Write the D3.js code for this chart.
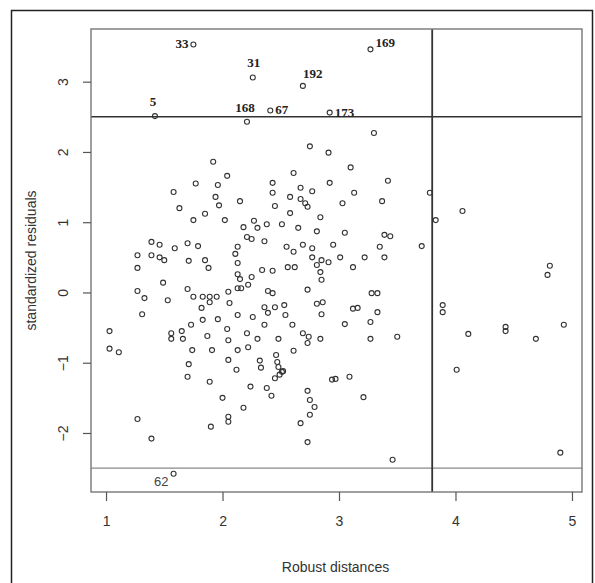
<!DOCTYPE html>
<html>
<head>
<meta charset="utf-8">
<script src="https://cdn.jsdelivr.net/npm/d3@7"></script>
<style>
  body { margin: 0; background: #fff; }
  svg { display: block; }
</style>
</head>
<body>
<svg id="chart" width="595" height="583"></svg>
<script>
// robust distance / standardized residual, one entry per observation
var rd = [1.75,2.26,1.42,2.21,2.41,2.69,2.92,3.27,1.58,
  3.30,2.75,2.91,1.92,3.10,2.61,2.04,3.42,1.77,1.96,2.43,2.92,2.67,2.77,1.58,1.94,2.43,3.13,3.78,
  2.58,1.63,2.15,2.67,3.03,3.37,2.71,2.45,1.97,2.73,1.85,2.58,1.75,2.84,2.02,3.83,4.06,2.27,2.38,
  2.51,2.18,2.30,2.65,2.81,3.05,3.39,3.44,2.21,2.25,2.36,1.39,1.46,1.59,1.70,1.79,2.13,2.55,2.61,
  2.69,2.77,2.95,3.35,3.71,1.27,1.39,1.46,1.50,1.71,1.85,2.11,3.01,3.22,3.39,2.85,2.91,1.88,1.27,
  2.13,2.34,2.43,2.56,2.62,2.81,3.12,2.13,2.25,2.84,2.15,2.85,1.49,2.22,2.13,2.16,2.39,2.43,2.05,
  2.73,1.95,1.27,1.70,1.75,1.33,1.83,1.89,3.28,3.33,4.81,4.79,1.53,1.89,1.31,1.82,1.83,1.03,1.56,
  1.56,1.65,1.66,1.73,1.87,1.03,1.11,1.74,1.91,1.71,1.70,1.89,1.27,1.39,1.90,2.06,2.36,2.45,2.53,
  2.81,2.86,2.39,2.54,2.85,2.13,2.26,1.96,2.36,2.60,2.04,2.21,2.05,2.30,2.48,2.69,2.74,2.73,2.84,
  2.13,2.22,2.61,2.46,2.05,2.32,2.47,2.33,2.48,2.12,2.52,2.49,2.45,2.94,2.24,2.38,2.42,2.00,2.73,
  2.75,2.79,2.18,2.75,2.05,2.05,2.67,2.73,3.12,3.16,3.33,3.05,3.27,3.27,3.50,2.97,3.09,3.21,3.46,
  3.89,3.89,4.11,4.43,4.43,4.69,4.93,4.01,4.90,2.51,2.77];
var sr = [3.53,3.06,2.51,2.43,2.59,2.94,2.56,3.46,-2.58,
  2.27,2.08,1.99,1.86,1.78,1.70,1.66,1.59,1.55,1.53,1.56,1.56,1.49,1.44,1.43,1.36,1.42,1.42,1.42,
  1.36,1.20,1.30,1.33,1.27,1.30,1.27,1.23,1.24,1.22,1.12,1.13,1.03,1.07,1.03,1.03,1.16,1.02,0.97,
  0.97,0.93,0.92,0.92,0.87,0.85,0.82,0.80,0.79,0.76,0.73,0.72,0.68,0.63,0.70,0.66,0.65,0.65,0.58,
  0.68,0.63,0.68,0.65,0.66,0.53,0.53,0.50,0.46,0.45,0.46,0.55,0.50,0.50,0.50,0.46,0.43,0.35,0.35,
  0.42,0.32,0.31,0.36,0.36,0.39,0.36,0.26,0.22,0.29,0.19,0.18,0.14,0.11,0.06,0.06,0.02,-0.01,0.01,
  0.04,-0.06,0.02,0.05,-0.06,-0.08,-0.06,-0.06,-0.01,-0.01,0.38,0.25,-0.11,-0.14,-0.31,-0.22,-0.39,-0.55,-0.58,
  -0.66,-0.55,-0.66,-0.46,-0.62,-0.80,-0.85,-0.82,-0.82,-1.02,-1.20,-1.27,-1.80,-2.08,-1.91,-0.15,-0.21,-0.21,-0.18,
  -0.16,-0.14,-0.29,-0.32,-0.31,-0.32,-0.35,-0.38,-0.46,-0.46,-0.52,-0.58,-0.68,-0.66,-0.66,-0.58,-0.63,-0.72,-0.66,
  -0.82,-0.78,-0.83,-0.89,-0.96,-0.97,-0.99,-1.07,-1.06,-1.10,-1.12,-1.17,-1.22,-1.24,-1.34,-1.36,-1.47,-1.50,-1.40,
  -1.53,-1.63,-1.64,-1.74,-1.77,-1.84,-1.86,-2.13,-0.23,-0.22,-0.28,-0.45,-0.42,-0.66,-0.63,-1.23,-1.20,-1.49,-2.38,
  -0.18,-0.28,-0.59,-0.49,-0.55,-0.66,-0.46,-1.10,-2.28,-1.13,0.50];

// flagged observations: index into rd/sr and the id printed next to it
var flagIdx = [0,1,2,3,4,5,6,7,8];
var flagIds = ["33","31","5","168","67","192","173","169","62"];
var flagPos = ["left","above","aboveleft","aboveleft","right","aboveright","right","right","left"];

var xTicks = [1,2,3,4,5];
var yTicks = [-2,-1,0,1,2,3];
var resCut = 2.5;
var distCut = 3.8;

var svg = d3.select("#chart");
var L = 91, R = 582, T = 29, B = 492;

var x = d3.scaleLinear().domain([0.871, 5.086]).range([L, R]);
var y = d3.scaleLinear().domain([-2.84, 3.75]).range([B, T]);

// outer frame of the figure
svg.append("rect")
  .attr("x", 11.5).attr("y", 10.5).attr("width", 581).attr("height", 600)
  .attr("fill", "none").attr("stroke", "#222").attr("stroke-width", 1.5);

// cut-off lines
svg.append("line")
  .attr("x1", L).attr("x2", R).attr("y1", y(resCut)).attr("y2", y(resCut))
  .attr("stroke", "#333").attr("stroke-width", 1.4);
svg.append("line")
  .attr("x1", L).attr("x2", R).attr("y1", y(-resCut)).attr("y2", y(-resCut))
  .attr("stroke", "#888").attr("stroke-width", 1.2);
svg.append("line")
  .attr("x1", x(distCut)).attr("x2", x(distCut)).attr("y1", T).attr("y2", B)
  .attr("stroke", "#333").attr("stroke-width", 1.8);

// points
var pts = rd.map(function(d, i) { return {x: d, y: sr[i]}; });
svg.append("g").selectAll("circle")
  .data(pts)
  .enter()
  .append("circle")
  .attr("cx", function(d) { return x(d.x); })
  .attr("cy", function(d) { return y(d.y); })
  .attr("r", 2.5)
  .attr("fill", "none")
  .attr("stroke", "#333")
  .attr("stroke-width", 1.1);

// id labels
var offs = {
  left: [-5, 4, "end"],
  above: [1, -10, "middle"],
  aboveleft: [-2, -10, "middle"],
  right: [5, 4, "start"],
  aboveright: [0, -8, "start"]
};
flagIdx.forEach(function(k, j) {
  var o = offs[flagPos[j]];
  var p = pts[k];
  var dy = o[1];
  if (flagIds[j] == "62") dy = 12;
  if (flagIds[j] == "169") dy = -2;
  svg.append("text")
    .attr("x", x(p.x) + o[0])
    .attr("y", y(p.y) + dy)
    .attr("text-anchor", o[2])
    .attr("font-family", flagIds[j] == "62" ? "Liberation Sans" : "Liberation Serif")
    .attr("font-weight", flagIds[j] == "62" ? "normal" : "bold")
    .attr("font-size", 13)
    .attr("fill", flagIds[j] == "62" ? "#444" : "#222")
    .text(flagIds[j]);
});

// plot box
svg.append("rect")
  .attr("x", L).attr("y", T).attr("width", R - L).attr("height", B - T)
  .attr("fill", "none").attr("stroke", "#777").attr("stroke-width", 1.4);

// axes
var xa = svg.append("g")
  .attr("transform", "translate(0," + B + ")")
  .call(d3.axisBottom(x).tickValues(xTicks).tickSize(9).tickPadding(15).tickFormat(d3.format("d")));
var ya = svg.append("g")
  .attr("transform", "translate(" + L + ",0)")
  .call(d3.axisLeft(y).tickValues(yTicks).tickSize(8).tickPadding(14).tickFormat(d3.format("d")));
[xa, ya].forEach(function(a) {
  a.select(".domain").remove();
  a.selectAll("line").attr("stroke", "#555").attr("stroke-width", 1.2);
  a.selectAll("text").attr("font-family", "Liberation Sans").attr("font-size", 14).attr("fill", "#333");
});
// R-style labels on the y axis, read bottom to top
ya.selectAll("text")
  .attr("text-anchor", "middle")
  .attr("x", 0).attr("y", 0)
  .attr("dy", "0.35em")
  .attr("transform", "translate(-28,0) rotate(-90)");

// axis titles
svg.append("text")
  .attr("x", (L + R) / 2 - 1).attr("y", 572)
  .attr("text-anchor", "middle")
  .attr("font-family", "Liberation Sans").attr("font-size", 14).attr("fill", "#333")
  .text("Robust distances");
svg.append("text")
  .attr("transform", "translate(36," + ((T + B) / 2) + ") rotate(-90)")
  .attr("text-anchor", "middle")
  .attr("font-family", "Liberation Sans").attr("font-size", 14).attr("fill", "#333")
  .text("standardized residuals");
</script>
</body>
</html>
